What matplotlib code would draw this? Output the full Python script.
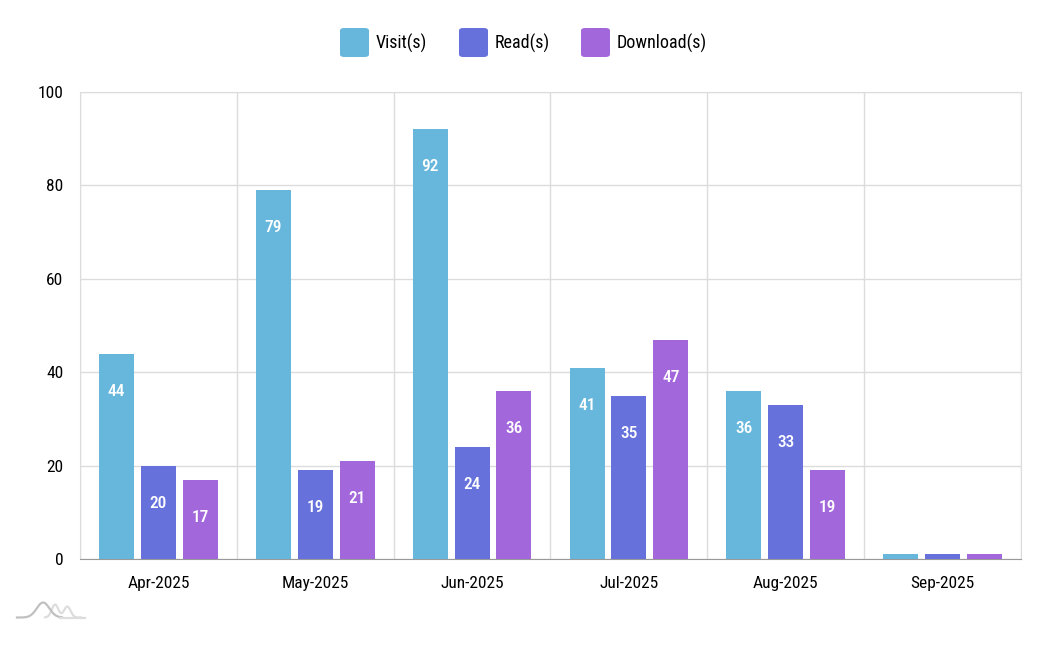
import matplotlib
matplotlib.use("Agg")
import matplotlib.pyplot as plt
from matplotlib.patches import FancyBboxPatch
from matplotlib.lines import Line2D
import numpy as np

categories = ["Apr-2025", "May-2025", "Jun-2025", "Jul-2025", "Aug-2025", "Sep-2025"]
visits = [44, 79, 92, 41, 36, 1]
reads = [20, 19, 24, 35, 33, 1]
downloads = [17, 21, 36, 47, 19, 1]
series_names = ["Visit(s)", "Read(s)", "Download(s)"]
colors = ["#67b7dc", "#6771dc", "#a367dc"]
yticks = [0, 20, 40, 60, 80, 100]

plt.rcParams['font.family'] = ['Roboto Condensed', 'Roboto', 'DejaVu Sans']
plt.rcParams['font.stretch'] = 'condensed'

W, H = 1043, 660
fig = plt.figure(figsize=(W / 100, H / 100), dpi=100)
ax = fig.add_axes([80 / W, 1 - 559 / H, (1021 - 80) / W, (559 - 92) / H])

x = np.arange(len(categories))
offsets = [-0.267, 0.0, 0.267]
width = 0.223
for vals, off, col in zip([visits, reads, downloads], offsets, colors):
    ax.bar(x + off, vals, width=width, color=col, zorder=3)
    for xi, v in zip(x, vals):
        if v >= 10:
            ax.annotate(str(v), (xi + off, v), xytext=(0, -27), textcoords="offset points",
                        ha="center", va="center", color="white", fontsize=12.5,
                        fontweight="medium", zorder=4)

ax.set_xlim(-0.5, len(categories) - 0.5)
ax.set_ylim(0, 100)
ax.set_yticks(yticks)
ax.set_xticks(x)
ax.set_xticklabels(categories)
ax.set_xticks(np.arange(len(categories) + 1) - 0.5, minor=True)
ax.grid(False)
ax.yaxis.grid(True, color="#dcdcdc", linewidth=1, zorder=0)
ax.xaxis.grid(True, which="minor", color="#dcdcdc", linewidth=1, zorder=0)
ax.tick_params(axis="both", which="both", length=0, labelsize=12.5, colors="black")
ax.tick_params(axis="x", pad=12)
ax.tick_params(axis="y", pad=12)
for s in ["top", "right", "left"]:
    ax.spines[s].set_color("#dcdcdc")
ax.spines["bottom"].set_color("#999999")

# legend
legend_items = [(340, "Visit(s)"), (459, "Read(s)"), (581, "Download(s)")]
for (lx, name), col in zip(legend_items, colors):
    p = FancyBboxPatch((lx / W, 1 - 57 / H), 29 / W, 29 / H,
                       boxstyle="round,pad=0,rounding_size=0.004",
                       transform=fig.transFigure, facecolor=col, edgecolor="none")
    fig.patches.append(p)
    fig.text((lx + 36) / W, 1 - 43 / H, name, ha="left", va="center", fontsize=13)

# decorative logo
t = np.linspace(0, 1, 60)
base = 617.5
xs1 = 17 + 45 * t
ys1 = base - 15 * np.exp(-((t - 0.58) / 0.2) ** 2)
xs2 = 45 + 36 * t
ys2 = base - 13 * np.exp(-((t - 0.28) / 0.13) ** 2) - 11 * np.exp(-((t - 0.62) / 0.13) ** 2)
fig.add_artist(Line2D(xs2 / W, 1 - ys2 / H, color="#dddddd", lw=1.6, transform=fig.transFigure))
fig.add_artist(Line2D(xs1 / W, 1 - ys1 / H, color="#c0c0c0", lw=1.6, transform=fig.transFigure))
fig.add_artist(Line2D([60 / W, 85 / W], [1 - base / H, 1 - base / H], color="#dddddd", lw=1.6, transform=fig.transFigure))

fig.savefig("out.png", dpi=100)
